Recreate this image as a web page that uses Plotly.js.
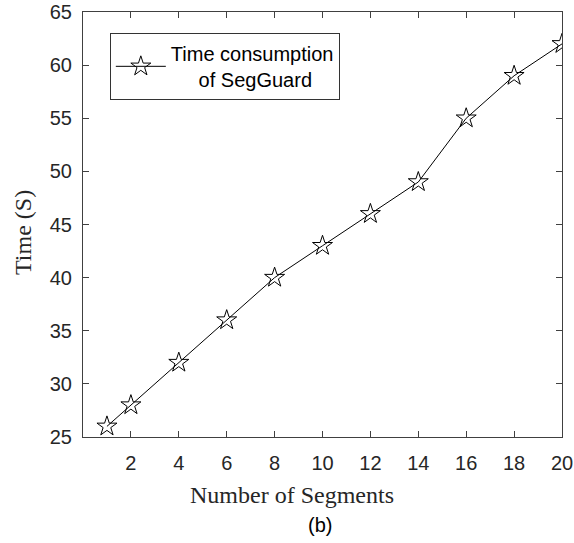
<!DOCTYPE html>
<html>
<head>
<meta charset="utf-8">
<script src="https://cdn.plot.ly/plotly-3.0.1.min.js"></script>
<style>html,body{margin:0;padding:0;background:#fff;}#chart{width:574px;height:543px;}</style>
</head>
<body>
<div id="chart"></div>
<script>
const segments = [1, 2, 4, 6, 8, 10, 12, 14, 16, 18, 20];
const timeSec = [26, 28, 32, 36, 40, 43, 46, 49, 55, 59, 62];
const xTicks = [2, 4, 6, 8, 10, 12, 14, 16, 18, 20];
const yTicks = [25, 30, 35, 40, 45, 50, 55, 60, 65];
const seriesName = "Time consumption<br>&nbsp;&nbsp;&nbsp;&nbsp;&nbsp;of SegGuard";

const trace = {
  x: segments, y: timeSec, type: 'scatter', mode: 'lines+markers',
  name: seriesName,
  line: {color: '#000', width: 1},
  marker: {symbol: 'star-open', size: 15, color: '#000', line: {width: 1, color: '#000'}}
};
const axisCommon = {
  showgrid: false, zeroline: false, showline: true, linecolor: '#404040', linewidth: 1,
  mirror: 'ticks', ticks: 'inside', ticklen: 6, tickcolor: '#404040', tickwidth: 1,
  tickfont: {family: 'Liberation Sans, Arial, sans-serif', size: 20, color: '#262626'}
};
const layout = {
  width: 574, height: 543,
  margin: {l: 83, r: 12, t: 12, b: 106},
  paper_bgcolor: '#fff', plot_bgcolor: '#fff',
  xaxis: Object.assign({}, axisCommon, {range: [0, 20], tickvals: xTicks, ticktext: xTicks.map(String), ticklabelstandoff: 8}),
  yaxis: Object.assign({}, axisCommon, {range: [25, 65], tickvals: yTicks, ticktext: yTicks.map(String), ticklabelstandoff: 6}),
  showlegend: true,
  legend: {
    x: 0.056, y: 0.951, xanchor: 'left', yanchor: 'top',
    bgcolor: '#fff', bordercolor: '#333', borderwidth: 1,
    font: {family: 'Liberation Sans, Arial, sans-serif', size: 20, color: '#000'},
    itemwidth: 50
  },
  annotations: [
    {text: 'Number of Segments', xref: 'paper', yref: 'paper', x: (292-83)/479, y: -(495-437)/425, xanchor: 'center', yanchor: 'middle', showarrow: false,
     font: {family: 'Liberation Serif, Times New Roman, serif', size: 24, color: '#262626'}},
    {text: '(b)', xref: 'paper', yref: 'paper', x: (320-83)/479, y: -(525-437)/425, xanchor: 'center', yanchor: 'middle', showarrow: false,
     font: {family: 'Liberation Sans, Arial, sans-serif', size: 20, color: '#000'}},
    {text: 'Time (S)', xref: 'paper', yref: 'paper', x: -(83-23)/479, y: (437-233)/425, xanchor: 'center', yanchor: 'middle', textangle: -90, showarrow: false,
     font: {family: 'Liberation Serif, Times New Roman, serif', size: 24, color: '#262626'}}
  ]
};
Plotly.newPlot('chart', [trace], layout, {displayModeBar: false, staticPlot: true});
</script>
</body>
</html>
